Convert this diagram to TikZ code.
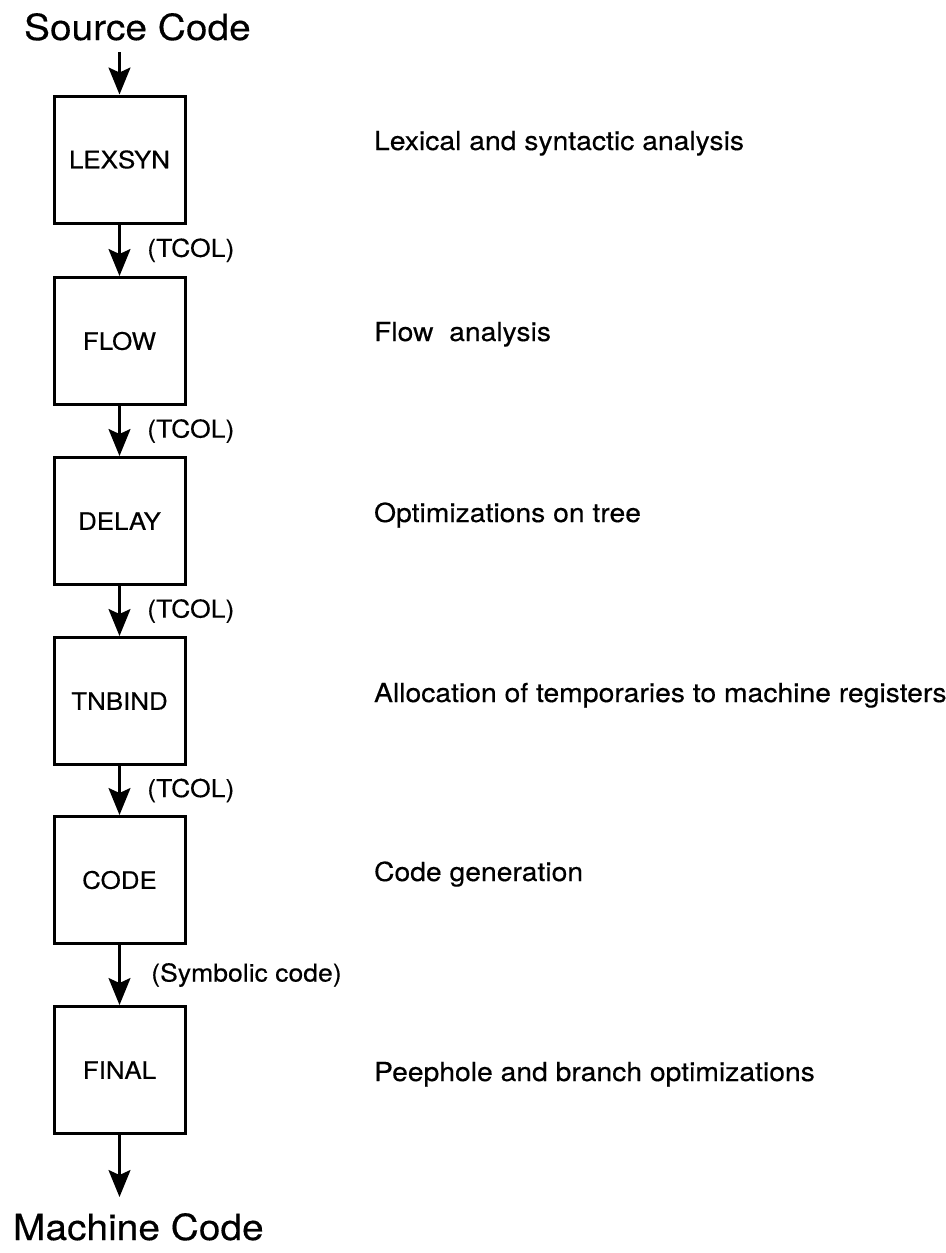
\documentclass[tikz,border=0pt]{standalone}
\usepackage{fontspec}
\setmainfont{TeX Gyre Heros}[FakeStretch=1.08, FakeBold=0.3]
\usetikzlibrary{arrows.meta}

\begin{document}
\begin{tikzpicture}[x = .5pt, y = -.5pt,
    pass/.style = {draw, line width = 1.5pt, minimum width = 65.5pt,
      minimum height = 63.5pt, inner sep = 0pt,
      font = \fontsize{12}{14}\selectfont},
    flow/.style = {line width = 1.1pt,
      -{Stealth[length = 13.5pt, width = 11pt, inset = 2.5pt]}},
    tag/.style = {font = \fontsize{12.3}{14}\selectfont, anchor = west},
    desc/.style = {font = \fontsize{13.1}{15}\selectfont, anchor = base west},
    ends/.style = {font = \fontsize{18}{20}\selectfont, anchor = base west}]
    \useasboundingbox (0,0) rectangle (946,1253);
    \node [ends] (src) at (17,40) {Source Code};
    \node [ends] (mc) at (6,1240) {Machine Code};
    \node [pass] (lexsyn) at (119.5,159.5) {LEXSYN};
    \node [pass] (flow) at (119.5,341) {FLOW};
    \node [pass] (delay) at (119.5,521) {DELAY};
    \node [pass] (tnbind) at (119.5,701) {TNBIND};
    \node [pass] (code) at (119.5,880) {CODE};
    \node [pass] (final) at (119.5,1070) {FINAL};
    \coordinate (in) at (119.5,52);
    \coordinate (out) at (119.5,1197);
    \draw [flow] (in) -- (lexsyn);
    \draw [flow] (lexsyn) -- node [tag, xshift = 10pt] (t1) {(TCOL)} (flow);
    \draw [flow] (flow) -- node [tag, xshift = 10pt] (t2) {(TCOL)} (delay);
    \draw [flow] (delay) -- node [tag, xshift = 10pt] (t3) {(TCOL)} (tnbind);
    \draw [flow] (tnbind) -- node [tag, xshift = 10pt] (t4) {(TCOL)} (code);
    \draw [flow] (code) -- node [tag, xshift = 12pt] (t5) {(Symbolic code)} (final);
    \draw [flow] (final) -- (out);
    \node [desc] (d1) at (367,150) {Lexical and syntactic analysis};
    \node [desc] (d2) at (367,341) {Flow\ \ analysis};
    \node [desc] (d3) at (367,522) {Optimizations on tree};
    \node [desc] (d4) at (367,702) {Allocation of temporaries to machine registers};
    \node [desc] (d5) at (367,881) {Code generation};
    \node [desc] (d6) at (367,1081) {Peephole and branch optimizations};
  \end{tikzpicture}
\end{document}
